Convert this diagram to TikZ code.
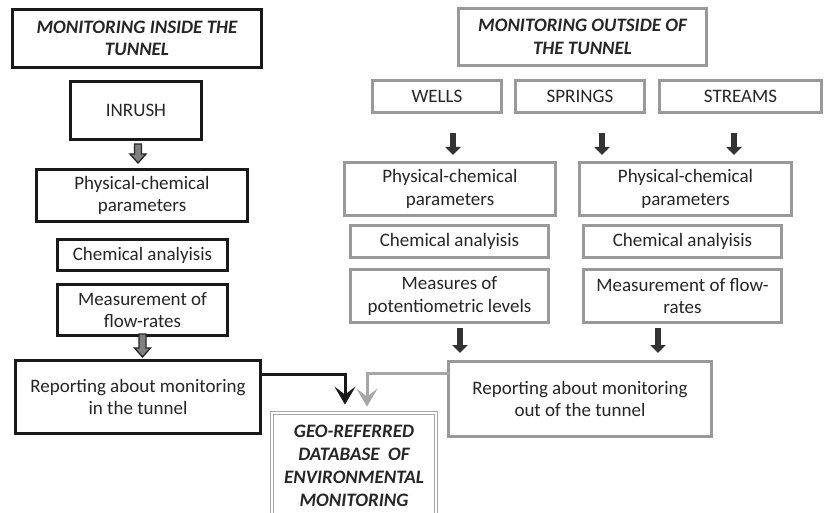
\documentclass[tikz,border=0pt]{standalone}
\usepackage{fontspec}
\setmainfont{Carlito}
\usetikzlibrary{arrows.meta,calc}
\begin{document}
\begin{tikzpicture}[x=1pt,y=-1pt,
  box/.style={rectangle, align=center, inner sep=1pt, text=black!85,
    font=\fontsize{19}{22.5}\selectfont},
  bbox/.style={box, draw=black!90, line width=3pt},
  gbox/.style={box, draw=black!40, line width=3pt},
  ttl/.style={font=\fontsize{19}{22.5}\selectfont\bfseries\itshape},
  dbbox/.style={box, draw=black!35, line width=0.8pt, double=white, double distance=2.5pt,
    font=\fontsize{19}{22.8}\selectfont\bfseries\itshape},
  darrow/.style={line width=5.5pt, draw=black!80, -{Triangle[width=15pt,length=8pt]}},
  bconn/.style={line width=3pt, draw=black!90, -{Stealth[length=18pt,width=21pt,inset=8pt]}},
  gconn/.style={line width=3pt, draw=black!35, -{Stealth[length=18pt,width=21pt,inset=8pt]}},
  garrow/.pic={\draw[line width=1.3pt, draw=black!85, fill=black!50]
    (-3.5,0) -- (3.5,0) -- (3.5,{#1-9}) -- (8,{#1-9}) -- (0,#1) -- (-8,{#1-9}) -- (-3.5,{#1-9}) -- cycle;}
]
\useasboundingbox[fill=white] (0,0) rectangle (824,513);

% left column
\node[bbox, ttl, minimum width=249pt, minimum height=58pt] (t1) at (137,38.5) {MONITORING INSIDE THE\\TUNNEL};
\node[bbox, minimum width=131pt, minimum height=58pt] (inrush) at (136,110.5) {INRUSH};
\node[bbox, minimum width=211pt, minimum height=52pt] (pc1) at (142,195.5) {Physical-chemical\\parameters};
\node[bbox, minimum width=170pt, minimum height=31pt] (ca1) at (142.5,255) {Chemical analyisis};
\node[bbox, minimum width=170pt, minimum height=51pt] (mf1) at (142.5,310) {Measurement of\\flow-rates};
\node[bbox, minimum width=245pt, minimum height=73pt] (rep1) at (138,397) {Reporting about monitoring\\in the tunnel};

% right column
\node[gbox, ttl, minimum width=248pt, minimum height=57pt] (t2) at (582.5,37) {MONITORING OUTSIDE OF\\THE TUNNEL};
\node[gbox, minimum width=129pt, minimum height=32pt] (wells) at (437,96.5) {WELLS};
\node[gbox, minimum width=129pt, minimum height=32pt] (springs) at (580,96.5) {SPRINGS};
\node[gbox, minimum width=162pt, minimum height=32pt] (streams) at (740.5,96.5) {STREAMS};
\node[gbox, minimum width=211pt, minimum height=53pt] (pcA) at (450,189) {Physical-chemical\\parameters};
\node[gbox, minimum width=212pt, minimum height=53pt] (pcB) at (685.5,189) {Physical-chemical\\parameters};
\node[gbox, minimum width=198pt, minimum height=32pt] (caA) at (449.5,241.5) {Chemical analyisis};
\node[gbox, minimum width=198pt, minimum height=32pt] (caB) at (682.5,241.5) {Chemical analyisis};
\node[gbox, minimum width=198pt, minimum height=53pt] (msA) at (449.5,296) {Measures of\\potentiometric levels};
\node[gbox, minimum width=198pt, minimum height=53pt] (msB) at (682.5,296) {Measurement of flow-\\rates};
\node[gbox, minimum width=263pt, minimum height=75pt] (rep2) at (580,399) {Reporting about monitoring\\out of the tunnel};

% database
\node[dbbox, minimum width=164pt, minimum height=106pt] (db) at (354,466) {GEO-REFERRED\\DATABASE\ \ OF\\ENVIRONMENTAL\\MONITORING};

% left block arrows
\pic at ($(inrush.south)+(2,3)$) {garrow=19};
\pic at ($(mf1.south)+(0,-3)$) {garrow=23};

% right dark arrows
\coordinate (xa) at (453,0);
\coordinate (xb) at (602,0);
\coordinate (xc) at (734,0);
\coordinate (xd) at (460,0);
\coordinate (xe) at (658,0);
\draw[darrow] ($(wells.south -| xa)+(0,19)$) -- ($(pcA.north -| xa)+(0,-6)$);
\draw[darrow] ($(springs.south -| xb)+(0,19)$) -- ($(pcB.north -| xb)+(0,-6)$);
\draw[darrow] ($(streams.south -| xc)+(0,19)$) -- ($(pcB.north -| xc)+(0,-6)$);
\draw[darrow] ($(msA.south -| xd)+(0,4)$) -- ($(rep2.north -| xd)+(0,-7)$);
\draw[darrow] ($(msB.south -| xe)+(0,4)$) -- ($(rep2.north -| xe)+(0,-7)$);

% connectors to database
\coordinate (c1) at ($(rep1.north east)+(-1.5,15)$);
\coordinate (e1) at ($(db.north)+(-9,-8)$);
\coordinate (c2) at ($(rep2.north west)+(1.5,13)$);
\coordinate (e2) at ($(db.north)+(13,-6)$);
\draw[bconn] (c1) -| (e1);
\draw[gconn] (c2) -| (e2);
\end{tikzpicture}
\end{document}
